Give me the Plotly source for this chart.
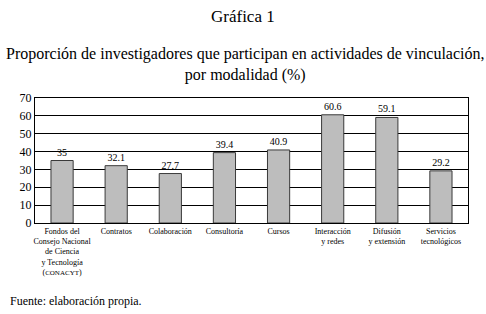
import plotly.graph_objects as go

categories = [
    "Fondos del<br>Consejo Nacional<br>de Ciencia<br>y Tecnología<br>(<span style='font-size:7px'>CONACYT</span>)",
    "Contratos",
    "Colaboración",
    "Consultoría",
    "Cursos",
    "Interacción<br>y redes",
    "Difusión<br>y extensión",
    "Servicios<br>tecnológicos",
]
values = [35, 32.1, 27.7, 39.4, 40.9, 60.6, 59.1, 29.2]
value_labels = ["35", "32.1", "27.7", "39.4", "40.9", "60.6", "59.1", "29.2"]
y_ticks = [0, 10, 20, 30, 40, 50, 60, 70]

FONT = "Liberation Serif"

W, H = 486, 314
ML, MR, MT, MB = 35, 18, 98, 91
plot_h = H - MT - MB
plot_w = W - ML - MR


def py(px):
    return (H - MB - px) / plot_h


def pxx(px):
    return (px - ML) / plot_w


fig = go.Figure()
fig.add_trace(go.Bar(
    x=list(range(len(categories))),
    y=values,
    text=value_labels,
    textposition="outside",
    textfont=dict(family=FONT, size=10, color="black"),
    cliponaxis=False,
    width=0.41,
    marker=dict(color="#bdbdbd", line=dict(color="#3a3a3a", width=1)),
))

fig.update_layout(
    width=W, height=H,
    margin=dict(l=ML, r=MR, t=MT, b=MB),
    paper_bgcolor="white", plot_bgcolor="white",
    showlegend=False,
    font=dict(family=FONT, color="black"),
    xaxis=dict(
        tickvals=list(range(len(categories))),
        ticktext=categories,
        tickfont=dict(family=FONT, size=8, color="black"),
        range=[-0.5, len(categories) - 0.5],
        showgrid=False, ticks="", showline=True, linecolor="black", linewidth=1, mirror=True,
        tickangle=0, automargin=False,
    ),
    yaxis=dict(
        range=[0, 70], tickvals=y_ticks,
        tickfont=dict(family=FONT, size=12, color="black"),
        showgrid=True, gridcolor="black", gridwidth=1,
        showline=True, linecolor="black", linewidth=1, mirror=True,
        ticks="", zeroline=False, automargin=False,
    ),
    annotations=[
        dict(text="Gráfica 1", x=pxx(243), y=py(16), xref="paper", yref="paper",
             showarrow=False, yanchor="middle",
             font=dict(family=FONT, size=17, color="black")),
        dict(text="Proporción de investigadores que participan en actividades de vinculación,<br>por modalidad (%)",
             x=pxx(245), y=py(64), xref="paper", yref="paper", showarrow=False, yanchor="middle",
             font=dict(family=FONT, size=16, color="black")),
        dict(text="Fuente: elaboración propia.", x=pxx(8), y=py(301), xref="paper", yref="paper",
             showarrow=False, xanchor="left", yanchor="middle",
             font=dict(family=FONT, size=12, color="black")),
    ],
)

fig.write_html("out.html", config={"displayModeBar": False},
               post_script="document.body.style.margin='0';document.body.style.padding='0';")
